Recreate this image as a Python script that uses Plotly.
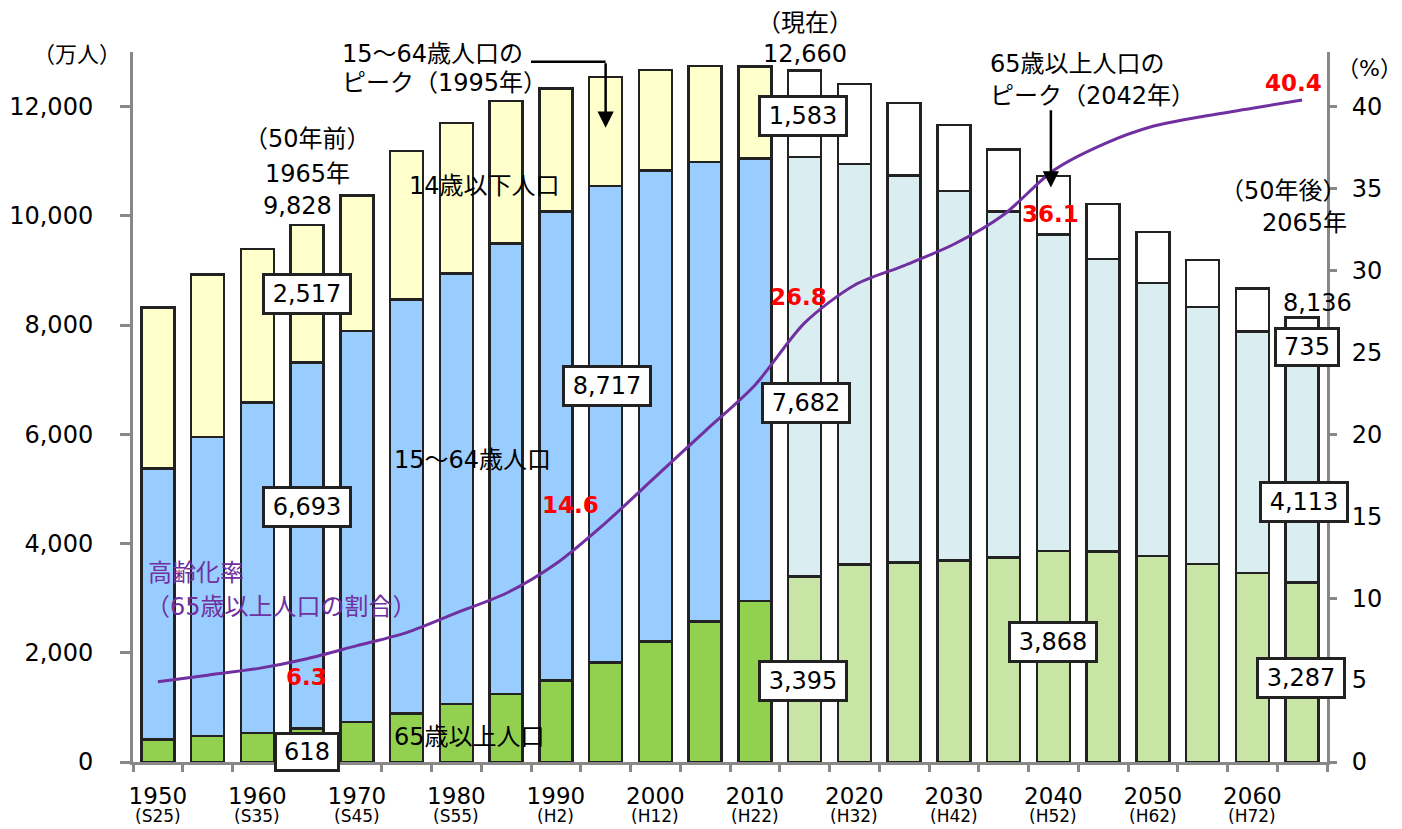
import plotly.graph_objects as go

# ---------------- data ----------------
years = [str(y) for y in range(1950, 2070, 5)]
era = ["S25", "S30", "S35", "S40", "S45", "S50", "S55", "S60", "H2", "H7", "H12", "H17", "H22",
       "H27", "H32", "H37", "H42", "H47", "H52", "H57", "H62", "H67", "H72", "H77"]
pop_0_14 = [2943, 2980, 2807, 2517, 2482, 2722, 2751, 2603, 2249, 2001, 1847, 1759, 1680,
            1583, 1457, 1324, 1204, 1129, 1073, 1012, 939, 861, 791, 735]
pop_15_64 = [4966, 5473, 6047, 6693, 7157, 7581, 7883, 8251, 8590, 8717, 8622, 8409, 8103,
             7682, 7341, 7085, 6773, 6343, 5787, 5353, 5001, 4706, 4418, 4113]
pop_65 = [411, 475, 535, 618, 733, 887, 1065, 1247, 1489, 1826, 2204, 2576, 2948,
          3395, 3612, 3657, 3685, 3741, 3868, 3856, 3768, 3626, 3464, 3287]
pop_total = [8320, 8928, 9342, 9828, 10372, 11194, 11706, 12105, 12361, 12557, 12693, 12777, 12806,
             12660, 12410, 12066, 11662, 11212, 10728, 10221, 9708, 9193, 8674, 8136]
aging_rate = [4.9, 5.3, 5.7, 6.3, 7.1, 7.9, 9.1, 10.3, 12.1, 14.6, 17.4, 20.2, 23.0,
              26.8, 29.1, 30.3, 31.6, 33.4, 36.1, 37.7, 38.8, 39.4, 39.9, 40.4]
first_projection = 13  # 2015 onward = projection

left_ticks = [0, 2000, 4000, 6000, 8000, 10000, 12000]
right_ticks = [0, 5, 10, 15, 20, 25, 30, 35, 40]

# ---------------- styles ----------------
FONT = "DejaVu Sans, Noto Sans CJK JP"
C_Y_ACT, C_Y_PRJ = "#FFFFCC", "#FFFFFF"
C_B_ACT, C_B_PRJ = "#99CCFF", "#DAEDF1"
C_G_ACT, C_G_PRJ = "#92D050", "#C9E5A6"
OUTLINE = "#222222"
AXIS = "#888888"
PURPLE = "#7030A0"

def colors(a, p):
    return [a if i < first_projection else p for i in range(len(years))]

fig = go.Figure()
for vals, ca, cp in [(pop_65, C_G_ACT, C_G_PRJ), (pop_15_64, C_B_ACT, C_B_PRJ), (pop_0_14, C_Y_ACT, C_Y_PRJ)]:
    fig.add_trace(go.Bar(x=years, y=vals, marker=dict(color=colors(ca, cp), line=dict(color=OUTLINE, width=2.5)),
                         showlegend=False, hoverinfo="skip"))

fig.add_trace(go.Scatter(x=years, y=aging_rate, yaxis="y2", mode="lines",
                         line=dict(color=PURPLE, width=3, shape="spline", smoothing=0.8),
                         showlegend=False, hoverinfo="skip"))

ticktext = [y if i % 2 == 0 else "" for i, y in enumerate(years)]

fig.update_layout(
    width=1402, height=829, margin=dict(l=133, r=75, t=52, b=67),
    paper_bgcolor="white", plot_bgcolor="white",
    barmode="stack", bargap=0.34,
    font=dict(family=FONT, size=24, color="#000"),
    xaxis=dict(type="category", range=[-0.5, len(years) - 0.5], autorange=False,
               tickvals=years, ticktext=ticktext, tickson="boundaries",
               ticks="outside", ticklen=7, tickwidth=2.5, tickcolor=AXIS, tickangle=0,
               showline=True, linecolor=AXIS, linewidth=3, showgrid=False, automargin=False,
               tickfont=dict(size=23), ticklabelstandoff=11),
    yaxis=dict(range=[0, 13000], tickvals=left_ticks, ticktext=[f"{v:,}" for v in left_ticks],
               ticks="outside", ticklen=10, tickwidth=2.5, tickcolor=AXIS, automargin=False,
               showline=True, linecolor=AXIS, linewidth=3, showgrid=False, zeroline=False,
               ticklabelstandoff=22, tickfont=dict(size=24)),
    yaxis2=dict(range=[0, 13000 * 40 / 12000], overlaying="y", side="right", tickvals=right_ticks,
                ticks="outside", ticklen=7, tickwidth=2.5, tickcolor=AXIS, automargin=False,
                showline=True, linecolor=AXIS, linewidth=3, showgrid=False, zeroline=False,
                ticklabelstandoff=10, tickfont=dict(size=24)),
)

ann = []

def txt(x, y, t, color="#000", size=24, xanchor="center", bold=False, xref="x", yref="y"):
    if bold:
        t = f"<b>{t}</b>"
    ann.append(dict(x=x, y=y, xref=xref, yref=yref, text=t, showarrow=False, xanchor=xanchor,
                    yanchor="middle", font=dict(color=color, size=size, family=FONT)))

def box(x, y, t, w=80, h=32):
    ann.append(dict(x=x, y=y, xref="x", yref="y", text=t, showarrow=False, xanchor="center",
                    yanchor="middle", bgcolor="white", bordercolor=OUTLINE, borderwidth=3,
                    borderpad=2, width=w, height=h, font=dict(size=24, family=FONT, color="#000")))

# era sub-labels under years
for i, e in enumerate(era):
    if i % 2 == 0:
        txt(i, -0.076, f"({e})", size=17, yref="paper")

# axis titles
txt(-0.047, 0.997, "（万人）", size=22, xref="paper", yref="paper")
txt(1.036, 0.977, "（%）", size=22, xref="paper", yref="paper")

# top notes
txt(13, 1.041, "（現在）", yref="paper")
txt(13, 12960, f"{pop_total[13]:,}")
txt(3, 11414, "（50年前）")
txt(3, 10774, "1965年")
txt(2.8, 10189, f"{pop_total[3]:,}")
txt(3.66, 12960, "15～64歳人口の", xanchor="left")
txt(3.66, 12439, "ピーク（1995年）", xanchor="left")
txt(16.69, 12786, "65歳以上人口の", xanchor="left")
txt(16.69, 12201, "ピーク（2042年）", xanchor="left")
txt(22.62, 10463, "（50年後）")
txt(23.05, 9860, "2065年")
txt(23.3, 8396, f"{pop_total[23]:,}")

# series labels
txt(6.56, 10555, "14歳以下人口")
txt(6.33, 5524, "15～64歳人口")
txt(6.27, 457, "65歳以上人口")
txt(-0.24, 3457, "高齢化率", color=PURPLE, xanchor="left")
txt(-0.28, 2835, "（65歳以上人口の割合）", color=PURPLE, xanchor="left")

# red rate labels
for idx, xx, yy in [(3, 2.98, 1555), (9, 8.3, 4701), (13, 12.87, 8506), (18, 17.95, 10043), (23, 22.82, 12439)]:
    txt(xx, yy, f"{aging_rate[idx]}", color="#FF0000", bold=True, size=23)

# boxed values
for idx, series, xx, yy in [(3, pop_0_14, 3, 8561), (3, pop_15_64, 3, 4665), (3, pop_65, 3, 183),
                            (9, pop_15_64, 9.03, 6878),
                            (13, pop_0_14, 12.97, 11835), (13, pop_15_64, 13.03, 6567), (13, pop_65, 12.97, 1482),
                            (18, pop_65, 17.99, 2195),
                            (23, pop_0_14, 23.1, 7591), (23, pop_15_64, 23.04, 4756), (23, pop_65, 22.98, 1537)]:
    v = f"{series[idx]:,}"
    box(xx, yy, v, w=(80 if len(v) > 3 else 56), h=(32 if len(v) > 3 else 30))

# arrows
ann.append(dict(x=9, y=11615, xref="x", yref="y", ax=9, ay=12822, axref="x", ayref="y", text="",
                showarrow=True, arrowhead=2, arrowsize=1.3, arrowwidth=2.5, arrowcolor="#000"))
ann.append(dict(x=17.95, y=10518, xref="x", yref="y", ax=17.95, ay=11963, axref="x", ayref="y", text="",
                showarrow=True, arrowhead=2, arrowsize=1.3, arrowwidth=2.5, arrowcolor="#000"))
fig.update_layout(annotations=ann)
fig.add_shape(type="line", x0=7.5, x1=9, y0=12822, y1=12822, xref="x", yref="y",
              line=dict(color="#000", width=2.5))

fig.write_html("out.html")
